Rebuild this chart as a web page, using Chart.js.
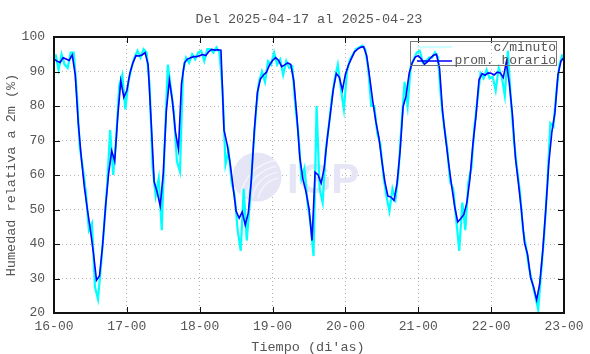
<!DOCTYPE html>
<html>
<head>
<meta charset="utf-8">
<script src="https://cdn.jsdelivr.net/npm/chart.js@4.4.1/dist/chart.umd.min.js"></script>
<style>
    html, body { margin: 0; padding: 0; background: #fff; }
</style>
</head>
<body>
<canvas id="chart-rh" width="590" height="354"></canvas>
<script>
// etiquetas del eje x (cada 24 h)
const dayLabels = ['16-00', '17-00', '18-00', '19-00', '20-00', '21-00', '22-00', '23-00'];

// promedio horario, una lectura por hora desde 16-00
const hourlyRH = [
    93.6, 93.0, 92.6, 94.0, 93.6, 93.2, 94.8, 89, 75, 65, 56.5, 50, 44, 37.3, 29.5, 30.8, 39.5, 51, 60.5, 67, 64, 77, 87.3, 82.5,
    84.5, 89.5, 92.5, 94.6, 94.5, 94.8, 95.5, 92, 75.5, 58, 55, 51, 60.5, 78.5, 87.5, 81.5, 72.5, 67.5, 86.5, 92.6, 93.6, 94, 94.3, 94.3,
    94.6, 94.9, 94.6, 95.8, 96.4, 96.2, 96.3, 96.2, 73, 69, 63.5, 56.5, 49.5, 47.5, 49.3, 45.5, 49, 58.5, 73, 84, 87.8, 89, 89.8, 91.9,
    93.2, 94, 93.2, 91.4, 91.9, 92.5, 92, 87.2, 77, 64.8, 58.8, 55.2, 50.3, 41, 60.8, 60, 57.6, 62, 70.4, 77.5, 84.8, 89.4, 88.3, 84.6,
    89.2, 91.9, 93.8, 95.7, 96.5, 97, 97.2, 94.6, 88.2, 81.4, 75.6, 71, 64.1, 58, 53.9, 53.6, 52.6, 57.5, 66.8, 79.8, 83, 89.5, 92.5, 94.2,
    94.6, 93.6, 92.1, 92.8, 93.9, 94.7, 95, 91, 78.4, 70.6, 63.4, 56.8, 50.8, 46.4, 47.4, 48.5, 52, 58.8, 69, 77, 87.6, 89.4, 88.9, 89.6,
    89.5, 89, 89.8, 89.6, 88.2, 92.7, 86.4, 77.6, 65, 57.5, 49.5, 40.3, 37, 30.3, 27.5, 23.8, 28.5, 38, 50, 63.5, 72.4, 78, 89, 93, 94.1
];

// datos c/minuto, leidos a la media hora (picos incluidos)
const minuteRH = [
    95, 90.5, 95, 92, 91, 95.5, 95.5, 84, 68, 62, 55, 44, 46, 27.5, 24, 34, 45, 57, 73, 60, 71, 86, 89, 79,
    87, 91, 94, 96, 94, 96.5, 95.5, 86, 62, 54, 59, 44, 70, 92, 85, 78, 64, 61, 90, 94, 92.5, 95, 93.5, 95.5,
    96, 93, 96.5, 96.5, 95.5, 97, 95.5, 85, 63, 67, 58, 54, 44, 38, 56, 41, 52, 66, 78, 87, 90, 87, 93, 92,
    95.5, 92, 93.5, 89, 93, 91, 91.5, 80, 72, 59, 62, 52, 46, 36.5, 80, 56, 52, 67, 74, 82, 88, 92, 85, 79,
    90, 93.5, 95, 96.5, 97, 97.5, 96.5, 91, 80, 80, 72, 69, 60, 54, 49.5, 56, 53, 61, 75, 87, 80, 91.5, 93.5, 95.5,
    96, 92.5, 93, 94, 94, 95.5, 94, 82, 74, 68, 58, 56, 47, 38, 52, 44, 58, 62, 74, 82, 89.5, 88, 90.5, 88,
    88.5, 84.5, 91, 88.5, 83, 96, 82, 70, 62, 55, 44, 39, 33, 29, 25, 21, 32, 43, 57, 75, 74, 84, 92, 95
];

const FONT = "'Liberation Mono', 'DejaVu Sans Mono', monospace";
const TEXT_COLOR = '#555';

const gnuplotFrame = {
    id: 'gnuplotFrame',
    beforeDatasetsDraw(chart) {
        // marca de agua IGP
        const ctx = chart.ctx;
        ctx.save();
        ctx.fillStyle = '#e5e5f6';
        ctx.beginPath();
        ctx.arc(257, 177, 24.5, 0, Math.PI * 2);
        ctx.fill();
        ctx.strokeStyle = '#f4f4fd';
        ctx.lineWidth = 1.5;
        for (let r = 10; r <= 30; r += 6) {
            ctx.beginPath();
            ctx.arc(282, 202, r + 14, Math.PI * 1.05, Math.PI * 1.45);
            ctx.stroke();
        }
        ctx.fillStyle = '#e5e5f6';
        ctx.font = "bold 42px 'Liberation Sans', Arial, sans-serif";
        ctx.textBaseline = 'alphabetic';
        ctx.textAlign = 'left';
        ctx.fillText('IGP', 287, 193);
        ctx.restore();
    },
    afterDatasetsDraw(chart) {
        const ctx = chart.ctx;
        const area = chart.chartArea;
        const xs = chart.scales.x;
        const ys = chart.scales.y;
        ctx.save();

        // ticks hacia adentro
        ctx.strokeStyle = '#111';
        ctx.lineWidth = 1;
        ys.ticks.forEach(t => {
            const y = Math.round(ys.getPixelForValue(t.value)) + 0.5;
            ctx.beginPath();
            ctx.moveTo(area.left, y); ctx.lineTo(area.left + 6, y);
            ctx.moveTo(area.right, y); ctx.lineTo(area.right - 6, y);
            ctx.stroke();
        });
        xs.ticks.forEach(t => {
            const x = Math.round(xs.getPixelForValue(t.value)) + 0.5;
            ctx.beginPath();
            ctx.moveTo(x, area.bottom); ctx.lineTo(x, area.bottom - 6);
            ctx.moveTo(x, area.top); ctx.lineTo(x, area.top + 6);
            ctx.stroke();
        });

        // borde
        ctx.lineWidth = 2;
        ctx.strokeStyle = '#111';
        ctx.strokeRect(area.left, area.top, area.right - area.left, area.bottom - area.top);

        // leyenda
        ctx.lineWidth = 1;
        ctx.strokeStyle = '#777';
        ctx.strokeRect(410.5, 41.5, 146, 24);
        ctx.lineWidth = 1.2;
        ctx.strokeStyle = '#9ff';
        ctx.beginPath(); ctx.moveTo(417, 47); ctx.lineTo(452, 47); ctx.stroke();
        ctx.lineWidth = 1.6;
        ctx.strokeStyle = '#0000ff';
        ctx.beginPath(); ctx.moveTo(417, 61); ctx.lineTo(452, 61); ctx.stroke();
        ctx.fillStyle = TEXT_COLOR;
        ctx.font = '13px ' + FONT;
        ctx.textAlign = 'right';
        ctx.textBaseline = 'middle';
        ctx.fillText('c/minuto', 556, 48);
        ctx.fillText('prom. horario', 556, 61);

        // titulos
        ctx.textAlign = 'center';
        ctx.font = '13.5px ' + FONT;
        ctx.fillText('Del 2025-04-17 al 2025-04-23', 309, 19);
        ctx.fillText("Tiempo (di'as)", 308, 347);
        ctx.translate(11, 175);
        ctx.rotate(-Math.PI / 2);
        ctx.fillText('Humedad relativa a 2m (%)', 0, 0);
        ctx.restore();
    }
};

document.addEventListener('DOMContentLoaded', function () {
    const ctx = document.getElementById('chart-rh').getContext('2d');

    new Chart(ctx, {
        type: 'line',
        data: {
            datasets: [
                {
                    label: 'prom. horario',
                    data: hourlyRH.map((v, i) => ({ x: i, y: v })),
                    borderColor: '#0000ff',
                    borderWidth: 1.6,
                    pointRadius: 0,
                    tension: 0,
                    order: 1
                },
                {
                    label: 'c/minuto',
                    data: minuteRH.map((v, i) => ({ x: i + 0.5, y: v })),
                    borderColor: '#00ffff',
                    borderWidth: 2.2,
                    pointRadius: 0,
                    tension: 0,
                    order: 2
                }
            ]
        },
        options: {
            responsive: false,
            animation: false,
            layout: {
                padding: { top: 37, right: 26, bottom: 0, left: 0 }
            },
            scales: {
                x: {
                    type: 'linear',
                    min: 0,
                    max: 168,
                    afterFit: function (scale) { scale.height = 41; },
                    ticks: {
                        stepSize: 24,
                        autoSkip: false,
                        maxRotation: 0,
                        padding: 6,
                        color: TEXT_COLOR,
                        font: { family: FONT, size: 13 },
                        callback: function (value) { return dayLabels[value / 24]; }
                    },
                    grid: { color: '#b5b5b5', drawTicks: false, lineWidth: 1 },
                    border: { display: false, dash: [1, 3] }
                },
                y: {
                    min: 20,
                    max: 100,
                    afterFit: function (scale) { scale.width = 54; },
                    ticks: {
                        stepSize: 10,
                        padding: 9,
                        color: TEXT_COLOR,
                        font: { family: FONT, size: 13 }
                    },
                    grid: { color: '#b5b5b5', drawTicks: false, lineWidth: 1 },
                    border: { display: false, dash: [1, 3] }
                }
            },
            plugins: {
                legend: { display: false },
                tooltip: { enabled: false }
            }
        },
        plugins: [gnuplotFrame]
    });
});
</script>
</body>
</html>
